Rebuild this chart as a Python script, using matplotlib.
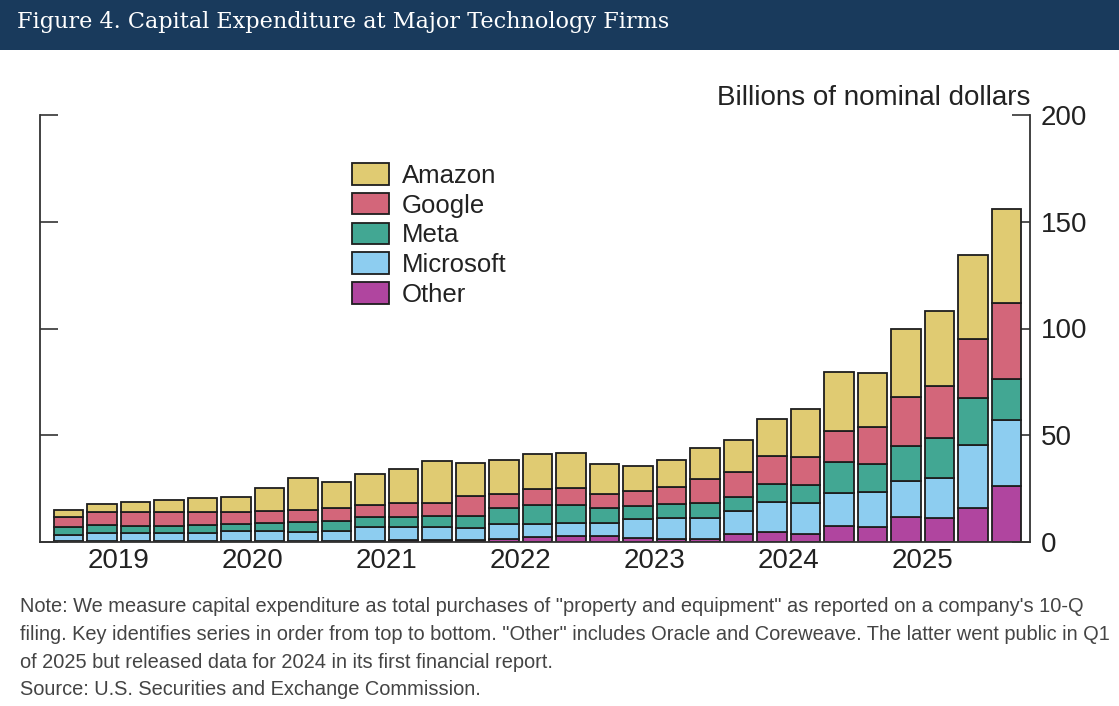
import matplotlib
matplotlib.use("Agg")
import matplotlib.pyplot as plt
import numpy as np

# ---- data (billions of nominal dollars, quarterly) ----
quarters = [f"{y}Q{q}" for y in range(2019, 2026) for q in range(1, 5)] + ["2026Q1"]
years = ["2019", "2020", "2021", "2022", "2023", "2024", "2025"]

other = [0.4, 0.4, 0.4, 0.4, 0.5, 0.5, 0.5, 0.5, 0.6, 0.7, 0.8, 0.9, 1.0, 1.4, 2.5,
         3.0, 2.8, 1.9, 1.6, 1.3, 3.6, 4.8, 3.7, 7.5, 7.2, 11.5, 11.1, 16.0, 26.2]
microsoft = [2.9, 4.0, 3.7, 3.7, 3.6, 4.6, 4.6, 4.2, 4.7, 6.2, 6.1, 6.3, 5.7, 6.9, 5.9,
             5.8, 6.3, 9.1, 9.8, 9.8, 10.9, 14.0, 14.7, 15.5, 16.3, 17.0, 18.9, 29.3, 30.8]
meta = [3.9, 3.5, 3.4, 3.4, 3.7, 3.2, 3.9, 4.8, 4.7, 4.9, 4.6, 4.9, 5.3, 7.7, 8.8,
        8.4, 7.0, 5.9, 6.3, 7.0, 6.4, 8.2, 8.1, 14.5, 12.8, 16.4, 18.7, 22.0, 19.5]
google = [4.3, 6.1, 6.7, 6.5, 6.1, 5.6, 5.6, 5.5, 5.7, 5.6, 6.9, 6.4, 9.6, 6.7, 7.7,
          8.0, 6.3, 7.0, 8.1, 11.4, 11.7, 13.2, 13.1, 14.4, 17.6, 22.8, 24.3, 27.9, 35.3]
amazon = [3.5, 3.8, 4.6, 5.5, 6.7, 7.4, 10.9, 14.8, 12.2, 14.4, 15.6, 19.4, 15.2, 15.9, 16.4,
          16.7, 14.1, 11.5, 12.5, 14.6, 15.1, 17.6, 22.5, 27.7, 25.3, 32.2, 35.1, 39.3, 44.0]

series_names = ["Other", "Microsoft", "Meta", "Google", "Amazon"]
series_vals = [other, microsoft, meta, google, amazon]
colors = {"Amazon": "#E0CB72", "Google": "#D3667A", "Meta": "#42A793",
          "Microsoft": "#8DCDF0", "Other": "#B0459F"}

title = "Figure 4. Capital Expenditure at Major Technology Firms"
note_lines = [
    'Note: We measure capital expenditure as total purchases of "property and equipment" as reported on a company\'s 10-Q',
    'filing. Key identifies series in order from top to bottom. "Other" includes Oracle and Coreweave. The latter went public in Q1',
    'of 2025 but released data for 2024 in its first financial report.',
    'Source: U.S. Securities and Exchange Commission.',
]

plt.rcParams['font.family'] = ['Liberation Sans', 'DejaVu Sans']

W, H = 1119, 706
fig = plt.figure(figsize=(W / 100, H / 100), dpi=100)
fig.patch.set_facecolor("white")

# title band
fig.patches.append(plt.Rectangle((0, 1 - 50 / H), 1, 50 / H, transform=fig.transFigure,
                                 facecolor="#193A5C", edgecolor="none", zorder=0))
fig.text(17 / W, 1 - 22 / H, title, color="white", fontsize=16.1,
         family=['DejaVu Serif'], va="center", ha="left")

ax = fig.add_axes([40 / W, 1 - 542 / H, (1030 - 40) / W, (542 - 115) / H])
x = np.arange(len(quarters))
bottom = np.zeros(len(quarters))
handles = {}
for name, vals in zip(series_names, series_vals):
    v = np.array(vals)
    b = ax.bar(x, v, width=0.89, bottom=bottom, color=colors[name],
               edgecolor="#1E1E1E", linewidth=1.3, label=name, zorder=2)
    handles[name] = b
    bottom += v

ax.set_xlim(-0.85, len(quarters) - 0.3)
ax.set_ylim(0, 200)

ax.spines["top"].set_visible(False)
for s in ["left", "right", "bottom"]:
    ax.spines[s].set_color("#333333")
    ax.spines[s].set_linewidth(1.3)

ax.yaxis.set_ticks_position("both")
ax.set_yticks([0, 50, 100, 150, 200])
ax.tick_params(axis="y", direction="in", length=13, width=1.2, color="#333333",
               labelleft=False, labelright=True, labelsize=20, pad=8, labelcolor="#222222")
year_pos = [1.5 + 4 * i for i in range(len(years))]
ax.set_xticks(year_pos)
ax.set_xticklabels(years)
ax.tick_params(axis="x", length=0, labelsize=20, pad=4, labelcolor="#222222")

ax.text(1.0, 1.01, "Billions of nominal dollars", transform=ax.transAxes,
        ha="right", va="bottom", fontsize=20, color="#222222")

order = ["Amazon", "Google", "Meta", "Microsoft", "Other"]
leg = ax.legend([handles[n] for n in order], order, loc="upper left",
                bbox_to_anchor=(352 / W, 1 - 163 / H), bbox_transform=fig.transFigure,
                frameon=False, fontsize=18.5, handlelength=1.45, handleheight=0.92,
                labelspacing=0.2, handletextpad=0.5, borderpad=0, borderaxespad=0)
for t in leg.get_texts():
    t.set_color("#222222")

for i, line in enumerate(note_lines):
    fig.text(20 / W, 1 - (607 + 27.5 * i) / H, line, fontsize=14.4, color="#444444",
             va="center", ha="left")

fig.savefig("out.png", dpi=100)
